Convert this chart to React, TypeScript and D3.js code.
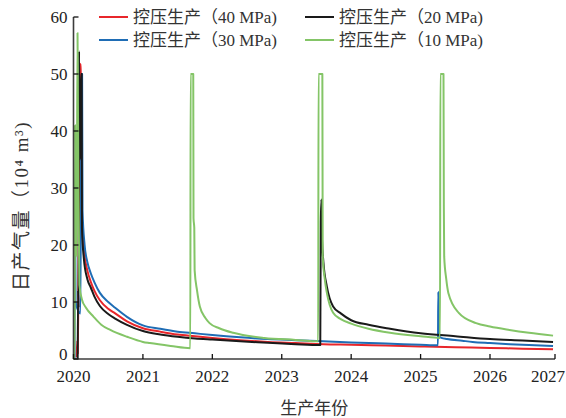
import React from 'react';
import * as d3 from 'd3';

type Pt = [number, number];

const yearTicks = [2020, 2021, 2022, 2023, 2024, 2025, 2026, 2027];
const rateTicks = [0, 10, 20, 30, 40, 50, 60];
const seriesNames = ['控压生产（40 MPa)', '控压生产（30 MPa)', '控压生产（20 MPa)', '控压生产（10 MPa)'];
const seriesColors = ['#e8262b', '#1f6db5', '#1a1a1a', '#84c567'];

const rate40: Pt[] = [
  [2020.045, 0.3], [2020.055, 3.2], [2020.062, 1.0], [2020.07, 12], [2020.1, 51.8], [2020.106, 50],
  [2020.114, 50], [2020.12, 24], [2020.15, 19], [2020.2, 15.5], [2020.25, 13.5], [2020.3, 12],
  [2020.38, 10.3], [2020.5, 8.8], [2020.6, 8.0], [2020.77, 6.6], [2021.0, 5.4], [2021.25, 4.8],
  [2021.5, 4.3], [2021.75, 4.0], [2022.0, 3.7], [2022.4, 3.3], [2022.8, 3.0], [2023.2, 2.8],
  [2023.6, 2.6], [2024.0, 2.5], [2024.5, 2.35], [2025.0, 2.2], [2025.5, 2.05], [2026.0, 1.95],
  [2026.5, 1.8], [2026.97, 1.7],
];

const rate30: Pt[] = [
  [2020.015, 0], [2020.022, 30], [2020.03, 10], [2020.1, 8], [2020.115, 50], [2020.124, 50],
  [2020.13, 26], [2020.16, 20], [2020.2, 17], [2020.25, 15], [2020.3, 13.5], [2020.38, 11.6],
  [2020.5, 10], [2020.6, 9], [2020.77, 7.4], [2021.0, 5.9], [2021.25, 5.3], [2021.5, 4.8],
  [2021.75, 4.5], [2022.0, 4.2], [2022.4, 3.8], [2022.8, 3.5], [2023.2, 3.3], [2023.6, 3.1],
  [2024.0, 2.9], [2024.5, 2.7], [2025.0, 2.5], [2025.25, 2.4], [2025.255, 11.8], [2025.262, 8],
  [2025.27, 4.0], [2025.3, 3.7], [2025.38, 3.5], [2025.6, 3.2], [2025.75, 3.0], [2026.0, 2.8],
  [2026.3, 2.6], [2026.6, 2.45], [2026.97, 2.3],
];

const rate20: Pt[] = [
  [2020.06, 0], [2020.066, 12], [2020.072, 9], [2020.08, 54], [2020.095, 35], [2020.11, 50],
  [2020.118, 50], [2020.122, 23], [2020.15, 17.5], [2020.2, 14], [2020.25, 12.5], [2020.3, 11],
  [2020.38, 9.3], [2020.5, 7.9], [2020.6, 7.1], [2020.77, 6.0], [2021.0, 4.9], [2021.25, 4.3],
  [2021.5, 3.9], [2021.75, 3.6], [2022.0, 3.4], [2022.4, 3.1], [2022.8, 2.85], [2023.2, 2.6],
  [2023.555, 2.45], [2023.562, 24], [2023.572, 28], [2023.58, 21], [2023.6, 17], [2023.65, 12.7],
  [2023.74, 9.2], [2023.85, 8.0], [2024.0, 6.8], [2024.25, 6.0], [2024.56, 5.3], [2025.0, 4.5],
  [2025.5, 4.0], [2026.0, 3.5], [2026.5, 3.25], [2026.97, 3.0],
];

const rate10: Pt[] = [
  [2020.0, 0], [2020.018, 0], [2020.022, 41], [2020.03, 25], [2020.045, 18], [2020.058, 57.2],
  [2020.07, 30], [2020.085, 13], [2020.12, 10.5], [2020.18, 9], [2020.29, 7.4], [2020.4, 6.0],
  [2020.53, 5.1], [2020.77, 3.9], [2021.0, 3.0], [2021.1, 2.8], [2021.4, 2.3], [2021.683, 1.9],
  [2021.687, 50], [2021.725, 50], [2021.729, 24.7], [2021.74, 23], [2021.745, 15.6], [2021.78, 12],
  [2021.82, 9.2], [2021.9, 7.2], [2021.96, 6.3], [2022.1, 5.4], [2022.3, 4.6], [2022.75, 3.7],
  [2023.2, 3.35], [2023.525, 3.1], [2023.53, 50], [2023.585, 50], [2023.59, 18], [2023.62, 14],
  [2023.65, 11.6], [2023.74, 8.1], [2023.85, 7.0], [2024.0, 6.2], [2024.25, 5.3], [2024.56, 4.6],
  [2025.0, 4.0], [2025.28, 3.7], [2025.285, 50], [2025.33, 50], [2025.335, 26.7], [2025.34, 18],
  [2025.37, 14], [2025.4, 11.6], [2025.55, 8.1], [2025.8, 6.3], [2026.0, 5.7], [2026.3, 5.1],
  [2026.6, 4.6], [2026.97, 4.1],
];

const allSeries = [rate40, rate30, rate20, rate10];

export default function App() {
  const W = 566;
  const H = 418;
  const x = d3.scaleLinear().domain([2020, 2026, 2027]).range([73.5, 490, 555]);
  const y = d3.scaleLinear().domain([0, 60]).range([359, 17]);
  const line = d3
    .line<Pt>()
    .x((d) => x(d[0]))
    .y((d) => y(d[1]))
    .curve(d3.curveMonotoneX);

  const axisColor = '#3d3d3d';
  const font = '"Liberation Serif", "Noto Sans CJK SC", serif';
  const x0 = x(2020);
  const x1 = x(2027);
  const y0 = y(0);
  const y1 = y(60);

  const legendPos = [
    { lx: 99, ly: 17 },
    { lx: 99, ly: 40 },
    { lx: 305, ly: 17 },
    { lx: 305, ly: 40 },
  ];

  return (
    <svg width={W} height={H} style={{ position: 'absolute', left: 0, top: 0 }} fontFamily={font}>
      <rect x={0} y={0} width={W} height={H} fill="#fff" />
      {allSeries.map((s, i) => (
        <path key={i} d={line(s) || ''} fill="none" stroke={seriesColors[i]} strokeWidth={2} strokeLinejoin="round" />
      ))}
      {/* axes */}
      <line x1={x0} y1={y1} x2={x0} y2={y0} stroke={axisColor} strokeWidth={1.6} />
      <line x1={x0} y1={y0} x2={x1} y2={y0} stroke={axisColor} strokeWidth={1.6} />
      {rateTicks.map((t) => (
        <g key={t}>
          <line x1={x0} x2={x0 + 5} y1={y(t)} y2={y(t)} stroke="#111" strokeWidth={1.3} />
          <text x={x0 - 6} y={y(t) - (t === 0 ? 5 : 0)} dy="0.35em" textAnchor="end" fontSize={17} fill="#222">
            {t}
          </text>
        </g>
      ))}
      {yearTicks.map((t) => (
        <g key={t}>
          <line x1={x(t)} x2={x(t)} y1={y0} y2={y0 - 5} stroke="#111" strokeWidth={1.3} />
          <text
            x={t === 2027 ? 565 : x(t)}
            y={y0 + 23}
            textAnchor={t === 2027 ? 'end' : 'middle'}
            fontSize={17}
            fill="#222"
          >
            {t}
          </text>
        </g>
      ))}
      <text x={(x0 + x1) / 2} y={414} textAnchor="middle" fontSize={17} fill="#333">
        生产年份
      </text>
      <text
        transform={`translate(21, 206) rotate(-90)`}
        textAnchor="middle"
        dominantBaseline="central"
        fontSize={19}
        letterSpacing={1.5}
        fill="#333"
      >
        日产气量（10⁴ m³)
      </text>
      {seriesNames.map((n, i) => (
        <g key={n}>
          <line
            x1={legendPos[i].lx}
            x2={legendPos[i].lx + 29}
            y1={legendPos[i].ly}
            y2={legendPos[i].ly}
            stroke={seriesColors[i]}
            strokeWidth={2}
          />
          <text x={legendPos[i].lx + 34} y={legendPos[i].ly} dy="0.35em" fontSize={17} fill="#333">
            {n}
          </text>
        </g>
      ))}
    </svg>
  );
}
